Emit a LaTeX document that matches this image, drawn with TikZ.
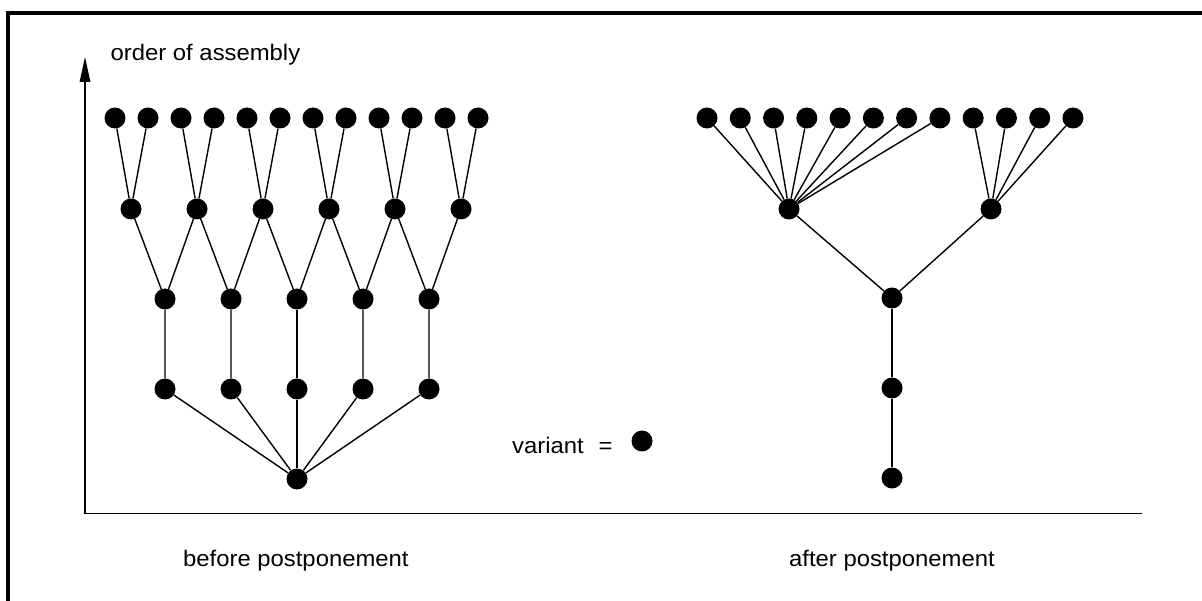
\documentclass[tikz,border=0pt]{standalone}
\usepackage{fontspec}
\setmainfont{Liberation Sans}
\usetikzlibrary{arrows.meta}
\tikzset{
  dot/.style={circle,fill=black,inner sep=0pt,minimum size=21pt},
  edge/.style={line width=1.4pt},
  lbl/.style={inner sep=0pt,anchor=base west,font=\fontsize{22.5}{26}\selectfont},
}
\newcommand{\wide}[1]{\scalebox{1.06}[1]{#1}}
\begin{document}
\begin{tikzpicture}[x=1pt,y=-1pt]
\clip (0,0) rectangle (1202,601);
\useasboundingbox (0,0) rectangle (1202,601);
% frame
\draw[line width=4pt] (8.3,650) -- (8.3,13.3) -- (1260,13.3);
% axes
\coordinate (ytip) at (85,57);
\coordinate (orig) at (85,513.5);
\coordinate (xend) at (1141.5,513.5);
\draw[line width=1.4pt,-{Triangle[length=25pt,width=10.5pt]}] (orig) -- (ytip);
\draw[line width=1.4pt] (orig) -- (xend);
% labels
\node[lbl] (ylab) at (110.5,61) {\wide{order of assembly}};
\node[lbl] (before) at (183,566) {\wide{before postponement}};
\node[lbl] (after) at (789,566) {\wide{after postponement}};
\node[lbl] (variant) at (512,453) {\wide{variant\hspace{14pt}=}};
\node[dot] (legdot) at (642,441) {};
% left tree
\foreach \i in {0,...,11} \node[dot] (lt\i) at ({115+33*\i},118) {};
\foreach \i in {0,...,5} \node[dot] (lm\i) at ({131+66*\i},209) {};
\foreach \i in {0,...,4} {
  \node[dot] (lr\i) at ({165+66*\i},299) {};
  \node[dot] (lq\i) at ({165+66*\i},389) {};
}
\node[dot] (lb) at (297,479) {};
\foreach \i [evaluate=\i as \a using int(2*\i), evaluate=\i as \b using int(2*\i+1)] in {0,...,5}
  \draw[edge] (lt\a) -- (lm\i) -- (lt\b);
\foreach \i [evaluate=\i as \j using int(\i+1)] in {0,...,4}
  \draw[edge] (lm\i) -- (lr\i) -- (lm\j);
\foreach \i in {0,...,4} \draw[edge] (lr\i) -- (lq\i) -- (lb);
% right tree
\foreach \i in {0,...,11} \node[dot] (rt\i) at ({707+33.27*\i},118) {};
\node[dot] (rh1) at (789,209) {};
\node[dot] (rh2) at (991,209) {};
\node[dot] (rr) at (892,298) {};
\node[dot] (rq) at (892,388) {};
\node[dot] (rb) at (892,478) {};
\foreach \i in {0,...,7} \draw[edge] (rt\i) -- (rh1);
\foreach \i in {8,...,11} \draw[edge] (rt\i) -- (rh2);
\draw[edge] (rh1) -- (rr) -- (rh2);
\draw[edge] (rr) -- (rq) -- (rb);
\end{tikzpicture}
\end{document}
